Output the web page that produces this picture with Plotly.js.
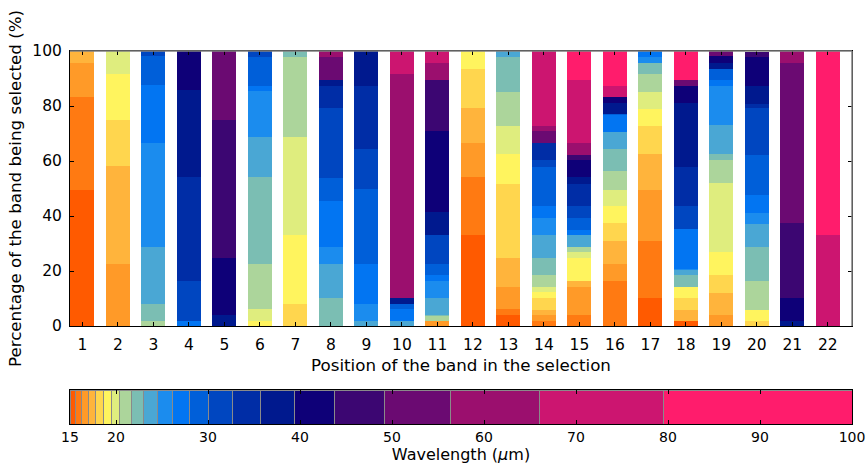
<!DOCTYPE html>
<html>
<head>
<meta charset="utf-8">
<script src="https://cdn.plot.ly/plotly-3.0.1.min.js"></script>
<style>html,body{margin:0;padding:0;background:#fff;}#chart{width:867px;height:467px;}</style>
</head>
<body>
<div id="chart"></div>
<script>
// Positions of the band in the selection (x categories)
const positions = [1,2,3,4,5,6,7,8,9,10,11,12,13,14,15,16,17,18,19,20,21,22];

// Wavelength band edges (µm) and colours
const bandEdges = [15, 15.6, 16.2, 17.0, 17.8, 18.6, 19.5, 20.4, 21.7, 23.0, 24.5, 26.1, 28.0, 30.1, 32.7, 35.7, 39.4, 43.7, 49.2, 56.4, 66.0, 79.5, 100];
const bandColors = ['#FF5A00','#FF7A12','#FF9A28','#FFB43C','#FFD64E','#FFF45E','#DFED7E','#ACD59B','#7BBEB3','#4AA7D4','#1B8CEE','#0275F2','#005FD9','#0046C0','#002DA6','#00198E','#0E0078','#3C0672','#6B0A72','#9B0F6E','#CC1570','#FF1C6C'];

// Percentage of each band being selected at each position (one array per band, positions 1..22)
const b01 = [49.6,0,0,0,0,0,0,0,0,0,0,33.2,3.9,0,0,0,10.2,1.7,0,0,0,0];
const b02 = [33.8,0,0,0,0,0,0,0,0,0,0,21.0,2.2,1.7,3.9,16.5,20.7,0,0,0,0,0];
const b03 = [12.3,22.6,0,0,0,0,0,0,0,0,1.7,12.4,8.0,2.2,10.2,6.1,18.7,0,3.9,0,0,0];
const b04 = [4.3,35.5,0,0,0,0,0,0,0,0,0,12.7,10.7,1.8,2.3,8.4,12.8,4.0,8.2,0,0,0];
const b05 = [0,16.8,0,0,0,0,7.9,0,0,0,0,14.3,27.0,4.5,0,6.3,10.2,4.4,6.5,1.7,0,0];
const b06 = [0,16.8,0,0,0,1.7,25.2,0,0,0,0,6.5,10.6,2.1,8.4,6.2,6.2,4.0,8.4,4.0,0,0];
const b07 = [0,8.3,0,0,0,4.4,35.6,0,0,0,0,0,10.2,1.8,2.1,6.1,6.2,0,24.9,0,0,0];
const b08 = [0,0,1.7,0,0,16.5,29.3,0,0,0,2.0,0,12.4,4.4,2.0,6.6,6.6,0,8.4,10.7,0,0];
const b09 = [0,0,6.3,0,0,31.6,2.0,10.2,0,0,0.2,0,12.9,6.3,0,8.0,4.0,4.4,2.2,12.4,0,0];
const b10 = [0,0,20.9,0,0,14.6,0,12.3,1.7,1.7,6.3,0,2.0,8.3,4.3,6.2,0,1.8,10.6,8.4,0,0];
const b11 = [0,0,37.7,0,0,16.8,0,6.3,6.2,0,6.2,0,0,6.2,0,0,2.3,0.5,14.3,4.0,0,0];
const b12 = [0,0,20.9,1.7,0,1.8,0,16.7,14.6,4.4,2.1,0,0,4.4,1.8,6.2,2.0,14.5,2.2,6.5,0,0];
const b13 = [0,0,10.6,0,0,10.6,0,8.5,27.4,1.8,4.0,0,0,14.3,4.4,0.4,0,0,4.0,14.6,0,0];
const b14 = [0,0,2.0,14.8,0,2.0,0,25.1,14.6,0,10.6,0,0,2.2,4.1,0,0,8.4,0,16.8,0,0];
const b15 = [0,0,0,37.7,0,0,0,8.2,22.8,0,0,0,0,6.3,8.3,0,0,14.3,0,1.8,0,0];
const b16 = [0,0,0,31.5,3.9,0,0,2.1,12.6,2.3,8.5,0,0,0,2.3,4.0,0,23.0,2.2,6.3,1.7,0];
const b17 = [0,0,0,14.4,21.0,0,0,0,0,0,29.3,0,0,0,6.1,2.2,0,6.2,2.3,10.6,8.5,0];
const b18 = [0,0,0,0,50.0,0,0,0,0,0,18.5,0,0,0,2.0,0,0,0,0,2.0,27.1,0];
const b19 = [0,0,0,0,25.1,0,0,8.5,0,0,0,0,0,4.4,0,0,0,2.2,2.0,0,58.4,0];
const b20 = [0,0,0,0,0,0,0,2.0,0,81.5,6.2,0,0,1.7,4.4,0,0,0,0,0,4.3,0];
const b21 = [0,0,0,0,0,0,0,0,0,8.3,4.3,0,0,27.3,22.9,4.1,0,0,0,0,0,33.2];
const b22 = [0,0,0,0,0,0,0,0,0,0,0,0,0,0,10.5,12.6,0,10.5,0,0,0,66.8];

const bandValues = [b01,b02,b03,b04,b05,b06,b07,b08,b09,b10,b11,b12,b13,b14,b15,b16,b17,b18,b19,b20,b21,b22];

const FONT = 'DejaVu Sans, sans-serif';
const TICK = 15.5, TITLE = 16.7;
const traces = [];
bandValues.forEach((vals, i) => {
  traces.push({
    type: 'bar', x: positions, y: vals, width: 0.68,
    marker: {color: bandColors[i], line: {width: 0}},
    xaxis: 'x', yaxis: 'y', showlegend: false, hoverinfo: 'skip'
  });
});

// Colour bar of the bands (horizontal bars spanning each band)
const starts = bandEdges.slice(0, -1);
const widths = starts.map((s, i) => bandEdges[i + 1] - s);
traces.push({
  type: 'bar', orientation: 'h', base: starts, x: widths,
  y: starts.map(() => 0.5), width: 1,
  marker: {color: bandColors, line: {color: '#8a8a8a', width: 1}},
  xaxis: 'x2', yaxis: 'y2', showlegend: false, hoverinfo: 'skip'
});

const W = 867, H = 467;
const px = v => v / W, py = v => 1 - v / H;

const layout = {
  width: W, height: H,
  margin: {l: 0, r: 0, t: 0, b: 0},
  paper_bgcolor: '#fff', plot_bgcolor: '#fff',
  barmode: 'stack', bargap: 0,
  font: {family: FONT, size: TICK, color: '#000'},
  xaxis: {
    domain: [px(70), px(852)], anchor: 'y',
    range: [0.65, 22.68], tickvals: positions, ticktext: positions.map(String),
    ticks: 'inside', ticklen: 4, tickcolor: '#000', mirror: 'ticks',
    showline: true, linecolor: '#000', linewidth: 1, showgrid: false, zeroline: false,
    tickfont: {size: TICK}, ticklabelstandoff: 4,
    title: {text: 'Position of the band in the selection', font: {size: TITLE}, standoff: 6}
  },
  yaxis: {
    domain: [py(326), py(51)], anchor: 'x',
    range: [0, 100], tickvals: [0,20,40,60,80,100],
    ticks: 'inside', ticklen: 4, tickcolor: '#000', mirror: 'ticks',
    showline: true, linecolor: '#000', linewidth: 1, showgrid: false, zeroline: false,
    tickfont: {size: TICK}, ticklabelstandoff: 4,
    title: {text: 'Percentage of the band being selected (%)', font: {size: TITLE}, standoff: 6}
  },
  xaxis2: {
    domain: [px(70), px(852)], anchor: 'y2',
    range: [15, 100], tickvals: [15,20,30,40,50,60,70,80,90,100],
    ticks: 'inside', ticklen: 4, tickcolor: '#000', mirror: 'ticks',
    showline: true, linecolor: '#000', linewidth: 1, showgrid: false, zeroline: false,
    tickfont: {size: 14}, ticklabelstandoff: 0,
    title: {text: 'Wavelength (<i>μ</i>m)', font: {size: 16}, standoff: 2}
  },
  yaxis2: {
    domain: [py(424), py(390)], anchor: 'x2',
    range: [0, 1], showticklabels: false, ticks: '', mirror: true,
    showline: true, linecolor: '#000', linewidth: 1, showgrid: false, zeroline: false
  },
  shapes: [
    {type: 'line', xref: 'paper', yref: 'paper', x0: px(70), x1: px(852), y0: py(51), y1: py(51), line: {color: '#808080', width: 1.5}, layer: 'above'},
    {type: 'line', xref: 'paper', yref: 'paper', x0: px(852), x1: px(852), y0: py(51), y1: py(326), line: {color: '#808080', width: 1.5}, layer: 'above'}
  ]
};

Plotly.newPlot('chart', traces, layout, {displayModeBar: false, staticPlot: true});
</script>
</body>
</html>
